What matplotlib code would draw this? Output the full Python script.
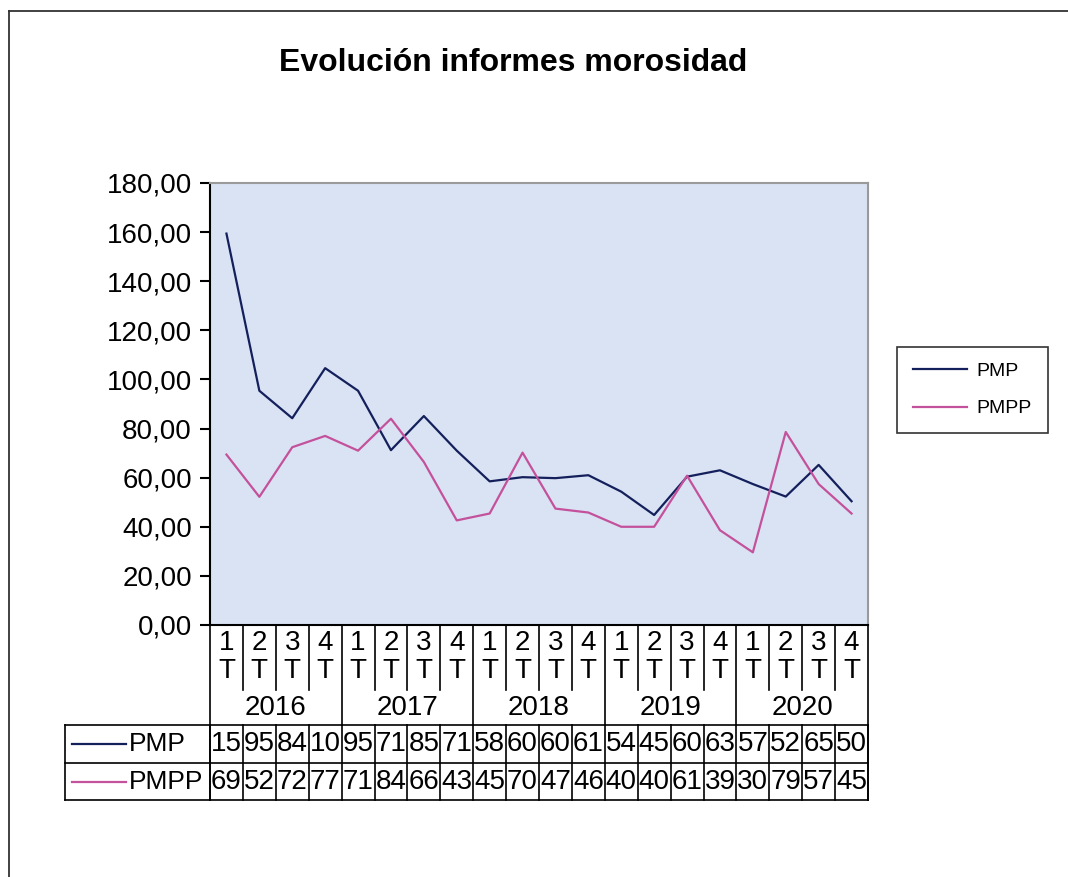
import numpy as np
import matplotlib
matplotlib.use('Agg')
import matplotlib.pyplot as plt
from matplotlib.lines import Line2D

plt.rcParams['font.family'] = ['Liberation Sans', 'DejaVu Sans']

# Datos
anios = ['2016', '2017', '2018', '2019', '2020']
trimestres = ['1\nT', '2\nT', '3\nT', '4\nT']
pmp = [159.4, 95.4, 84.2, 104.6, 95.4, 71.2, 85.1, 71.0, 58.5, 60.2,
       59.8, 61.0, 54.3, 44.8, 60.4, 63.0, 57.4, 52.3, 65.2, 50.4]
pmpp = [69.4, 52.2, 72.4, 77.0, 71.0, 84.0, 66.4, 42.6, 45.4, 70.2,
        47.4, 45.8, 40.0, 40.0, 60.8, 38.6, 29.6, 78.6, 57.4, 45.4]
series = [('PMP', pmp, '#14205c'), ('PMPP', pmpp, '#c4519b')]

W, H = 1068, 877
fig = plt.figure(figsize=(W / 100, H / 100), dpi=100)

def fy(y):
    return 1 - y / H

def fx(x):
    return x / W

# marco exterior (solo arriba e izquierda visibles)
fig.add_artist(Line2D([fx(9), fx(1068)], [fy(11), fy(11)], transform=fig.transFigure,
                      lw=1.3, color='#333333'))
fig.add_artist(Line2D([fx(9), fx(9)], [fy(11), fy(877)], transform=fig.transFigure,
                      lw=1.3, color='#333333'))

ax = fig.add_axes([fx(210), fy(625), fx(868) - fx(210), fy(183) - fy(625)])
ax.set_facecolor('#dae3f3')
n = len(pmp)
x = np.arange(n)
for name, vals, col in series:
    ax.plot(x, vals, color=col, lw=1.6, label=name)

ax.set_xlim(-0.5, n - 0.5)
ax.set_ylim(0, 180)
ax.set_yticks(np.arange(0, 181, 20))
ax.set_yticklabels([f'{v:.2f}'.replace('.', ',') for v in np.arange(0, 181, 20)])
ax.tick_params(axis='y', labelsize=20, length=7, width=1.5, pad=6)
ax.set_xticks([])
for s in ['top', 'right']:
    ax.spines[s].set_color('#9a9a9a')
    ax.spines[s].set_linewidth(1.5)
for s in ['left', 'bottom']:
    ax.spines[s].set_color('black')
    ax.spines[s].set_linewidth(1.5)

fig.text(fx(513), fy(63), 'Evolución informes morosidad', fontsize=23,
         fontweight='bold', ha='center', va='center')

# tabla de datos
tr = ax.get_xaxis_transform()
h_ax = 625 - 183
col_w = (868 - 210) / n

def ay(ypix):
    return (625 - ypix) / h_ax

def seg(x0, x1, y0, y1):
    ax.add_line(Line2D([x0, x1], [ay(y0), ay(y1)], transform=tr, color='black',
                       lw=1.2, clip_on=False))

left_col = (65 - 210) / col_w - 0.5
for i in range(n + 1):
    b = i - 0.5
    if i % 4 == 0:
        seg(b, b, 625, 725 if 0 < i < n else 800)
    else:
        seg(b, b, 625, 690)
for i in range(n + 1):
    seg(i - 0.5, i - 0.5, 725, 800)
for yy in [725, 763, 800]:
    seg(left_col, n - 0.5, yy, yy)
seg(left_col, left_col, 725, 800)

for i in range(n):
    ax.text(i, ay(657), trimestres[i % 4], transform=tr, ha='center', va='center',
            fontsize=20, linespacing=1.15)
for j, a in enumerate(anios):
    ax.text(4 * j + 1.5, ay(708), a, transform=tr, ha='center', va='center', fontsize=20)

for (name, vals, col), yy in zip(series, [744, 782]):
    x0 = left_col + (72 - 65) / col_w
    x1 = left_col + (126 - 65) / col_w
    ax.add_line(Line2D([x0, x1], [ay(yy), ay(yy)], transform=tr, color=col, lw=1.6,
                       clip_on=False))
    ax.text(x1 + 0.1, ay(yy), name, transform=tr, ha='left', va='center', fontsize=19)
    for i, v in enumerate(vals):
        ax.text(i, ay(yy), str(int(round(v)))[:2], transform=tr, ha='center',
                va='center', fontsize=20)

# leyenda
leg = ax.legend(loc='center left', bbox_to_anchor=(fx(897), fy(390)),
                bbox_transform=fig.transFigure, fontsize=14, frameon=True, fancybox=False,
                edgecolor='black', handlelength=2.8, labelspacing=1.0, borderpad=0.8,
                handletextpad=0.5, borderaxespad=0)
leg.get_frame().set_linewidth(1.2)

fig.savefig('out.png', dpi=100)
